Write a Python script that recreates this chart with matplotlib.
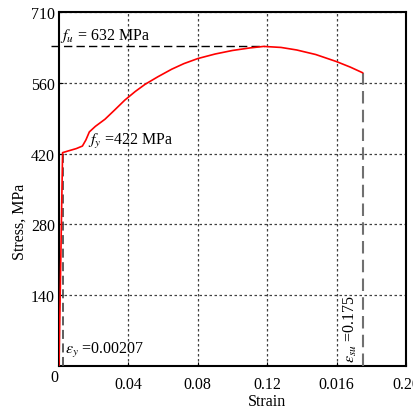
import matplotlib
matplotlib.use('Agg')
import matplotlib.pyplot as plt

# stress-strain curve of the steel bar
strain = [0, 0.00207, 0.006, 0.010, 0.0135, 0.0155, 0.0175, 0.021, 0.0265,
          0.032, 0.038, 0.044, 0.0496, 0.057, 0.065, 0.072, 0.080, 0.090,
          0.100, 0.110, 0.118, 0.128, 0.137, 0.148, 0.160, 0.168, 0.175]
stress = [0, 422, 426, 430, 435, 447, 463, 474, 488,
          506, 526, 543, 557, 572, 587, 598, 608, 617,
          624, 629, 632, 630, 625, 616, 602, 591, 580]

fy = 422
fu = 632
eps_y = 0.00207
eps_su = 0.175
eps_u = 0.118

xticks = [0.04, 0.08, 0.12, 0.16, 0.20]
xticklabels = ['0.04', '0.08', '0.12', '0.016', '0.20']
yticks = [140, 280, 420, 560, 700]
yticklabels = ['140', '280', '420', '560', '710']

plt.rcParams['font.family'] = 'Liberation Serif'
plt.rcParams['mathtext.fontset'] = 'stix'

fig = plt.figure(figsize=(4.14, 4.14), dpi=100)
ax = fig.add_axes([0.1425, 0.1135, 0.838, 0.855])

ax.plot(strain, stress, color='red', lw=1.2, zorder=4)

# yield and ultimate markers
ax.plot([eps_y, eps_y], [0, fy], color='#505050', lw=1.3, ls=(0, (5, 2.5)), zorder=3)
ax.plot([-0.0048, eps_u], [fu, fu], color='black', lw=1.0, ls=(0, (6, 3)),
        zorder=3, clip_on=False)
ax.plot([eps_su, eps_su], [0, stress[-1]], color='#707070', lw=1.5,
        ls=(0, (6, 3)), zorder=3)

ax.text(0.0006, fu + 5, r'$f_u$ = 632 MPa', fontsize=11.5, va='bottom')
ax.text(0.0165, fy + 5, r'$f_y$ =422 MPa', fontsize=11.5, va='bottom')
ax.text(0.0035, 14, r'$\varepsilon_y$ =0.00207', fontsize=11.5, va='bottom')
ax.text(eps_su - 0.002, 8, r'$\varepsilon_{su}$ =0.175', fontsize=11.5,
        rotation=90, ha='right', va='bottom')

ax.set_xlim(0, 0.20)
ax.set_ylim(0, 700)
ax.set_xticks(xticks)
ax.set_xticklabels(xticklabels)
ax.set_yticks(yticks)
ax.set_yticklabels(yticklabels)
ax.tick_params(direction='in', length=3, labelsize=11.5, color='black')
ax.tick_params(axis='x', pad=7)
ax.tick_params(axis='y', pad=3)
ax.grid(True, color='#404040', ls=(0, (2, 2)), lw=0.9)

for s in ax.spines.values():
    s.set_linewidth(1.5)

ax.text(-0.013, -0.03, '0', transform=ax.transAxes, fontsize=11.5,
        ha='center', va='center')
ax.text(0.6, -0.1, 'Strain', transform=ax.transAxes, fontsize=11.5,
        ha='center', va='center')
ax.text(-0.113, 0.41, 'Stress, MPa', transform=ax.transAxes, fontsize=11.5,
        ha='center', va='center', rotation=90)

fig.savefig('out.png', dpi=100)
